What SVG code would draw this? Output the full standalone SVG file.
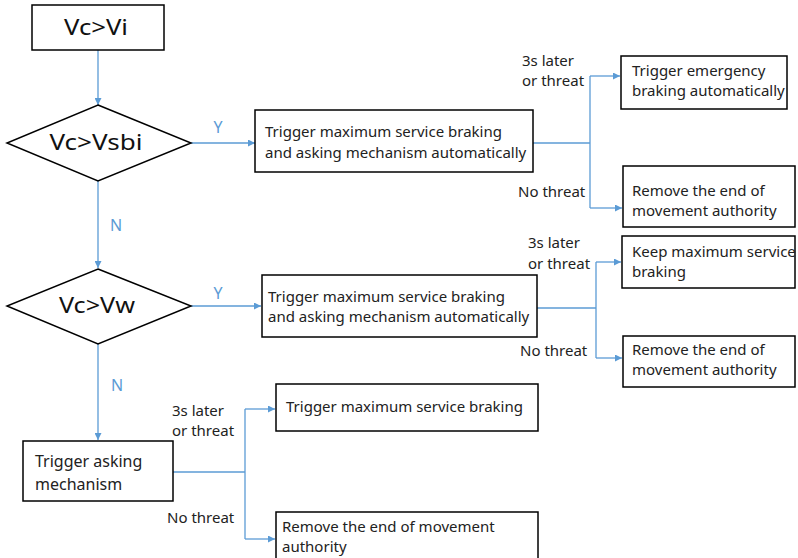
<svg xmlns="http://www.w3.org/2000/svg" width="798" height="558" viewBox="0 0 798 558">
<defs>
<style>
.box{fill:#fff;stroke:#000;stroke-width:1.5}
.t{font-family:"Noto Sans","Liberation Sans",sans-serif;font-size:15px;fill:#222}
.big{font-family:"Noto Sans","Liberation Sans",sans-serif;font-size:21px;fill:#111;text-anchor:middle}
.yn{font-family:"Noto Sans","Liberation Sans",sans-serif;font-size:16px;fill:#5b9bd5;text-anchor:middle}
.c{fill:none;stroke:#5b9bd5;stroke-width:1.3}
.ca{fill:none;stroke:#5b9bd5;stroke-width:1.3;marker-end:url(#ah)}
</style>
<marker id="ah" viewBox="0 0 10 10" refX="10" refY="5" markerWidth="7" markerHeight="7" markerUnits="userSpaceOnUse" orient="auto">
<path d="M0,0 L10,5 L0,10 z" fill="#5b9bd5"/>
</marker>
</defs>
<rect width="798" height="558" fill="#fff"/>
<g id="connectors">
<path class="ca" d="M98,50 V105"/>
<path class="ca" d="M191,143 H255"/>
<path class="c" d="M533,143 H590"/>
<path class="c" d="M590,76 V208"/>
<path class="ca" d="M590,76 H620"/>
<path class="ca" d="M590,208 H622"/>
<path class="ca" d="M98,181 V268"/>
<path class="ca" d="M191,306 H261"/>
<path class="c" d="M537,308 H596"/>
<path class="c" d="M596,262 V358"/>
<path class="ca" d="M596,262 H621"/>
<path class="ca" d="M596,358 H622"/>
<path class="ca" d="M98,344 V440"/>
<path class="c" d="M173,472 H245"/>
<path class="c" d="M245,409 V539"/>
<path class="ca" d="M245,409 H275"/>
<path class="ca" d="M245,539 H275"/>
<text class="yn" x="218" y="133">Y</text>
<text class="yn" x="116" y="231">N</text>
<text class="yn" x="218" y="299">Y</text>
<text class="yn" x="117" y="391">N</text>
<text class="t" x="522" y="66">3s later</text>
<text class="t" x="522" y="86">or threat</text>
<text class="t" x="518" y="197">No threat</text>
<text class="t" x="528" y="248">3s later</text>
<text class="t" x="528" y="269">or threat</text>
<text class="t" x="520" y="356">No threat</text>
<text class="t" x="172" y="416">3s later</text>
<text class="t" x="172" y="436">or threat</text>
<text class="t" x="167" y="523">No threat</text>
</g>
<g id="n_vcvi">
<rect class="box" x="32" y="5" width="132" height="45"/>
<text class="big" x="96" y="35" textLength="64" lengthAdjust="spacingAndGlyphs">Vc&gt;Vi</text>
</g>
<g id="n_vsbi">
<polygon class="box" points="98,105 191,143 98,181 7,143"/>
<text class="big" x="96" y="150" textLength="93" lengthAdjust="spacingAndGlyphs">Vc&gt;Vsbi</text>
</g>
<g id="n_msb1">
<rect class="box" x="255" y="110" width="278" height="62"/>
<text class="t" x="265" y="137">Trigger maximum service braking</text>
<text class="t" x="265" y="158">and asking mechanism automatically</text>
</g>
<g id="n_emerg">
<rect class="box" x="621" y="56" width="166" height="53"/>
<text class="t" x="632" y="76">Trigger emergency</text>
<text class="t" x="632" y="96">braking automatically</text>
</g>
<g id="n_remove1">
<rect class="box" x="623" y="166" width="172" height="61"/>
<text class="t" x="632" y="196">Remove the end of</text>
<text class="t" x="632" y="216">movement authority</text>
</g>
<g id="n_vw">
<polygon class="box" points="98,269 191,306 98,344 7,306"/>
<text class="big" x="97" y="313" textLength="76" lengthAdjust="spacingAndGlyphs">Vc&gt;Vw</text>
</g>
<g id="n_msb2">
<rect class="box" x="262" y="275" width="275" height="62"/>
<text class="t" x="268" y="302">Trigger maximum service braking</text>
<text class="t" x="268" y="322">and asking mechanism automatically</text>
</g>
<g id="n_keep">
<rect class="box" x="622" y="236" width="173" height="52"/>
<text class="t" x="632" y="257">Keep maximum service</text>
<text class="t" x="632" y="277">braking</text>
</g>
<g id="n_remove2">
<rect class="box" x="623" y="336" width="172" height="51"/>
<text class="t" x="632" y="355">Remove the end of</text>
<text class="t" x="632" y="375">movement authority</text>
</g>
<g id="n_ask">
<rect class="box" x="23" y="441" width="150" height="60"/>
<text class="t" x="35" y="467" style="font-size:16px">Trigger asking</text>
<text class="t" x="35" y="490" style="font-size:16px">mechanism</text>
</g>
<g id="n_msb3">
<rect class="box" x="276" y="384" width="262" height="47"/>
<text class="t" x="286" y="412">Trigger maximum service braking</text>
</g>
<g id="n_remove3">
<rect class="box" x="276" y="512" width="262" height="50"/>
<text class="t" x="282" y="532">Remove the end of movement</text>
<text class="t" x="282" y="552">authority</text>
</g>
</svg>
